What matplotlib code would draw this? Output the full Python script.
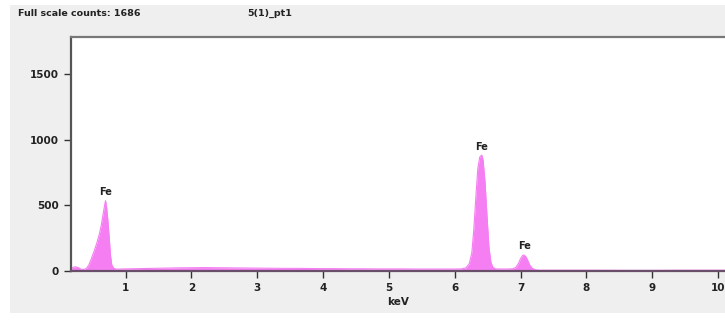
import matplotlib
matplotlib.use("Agg")
import matplotlib.pyplot as plt
from matplotlib.patches import Rectangle

# spectrum (keV, counts)
energy_kev = [0.17, 0.20, 0.24, 0.28, 0.32, 0.36, 0.40, 0.44, 0.48, 0.52,
              0.56, 0.60, 0.63, 0.66, 0.68, 0.695, 0.71, 0.73, 0.75, 0.77,
              0.79, 0.82, 0.86, 0.92, 1.00, 1.20, 1.40, 1.60, 1.80, 2.00,
              2.20, 2.40, 2.60, 2.80, 3.00, 3.20, 3.40, 3.60, 3.80, 4.00,
              4.20, 4.40, 4.60, 4.80, 5.00, 5.20, 5.40, 5.60, 5.80, 6.00,
              6.10, 6.17, 6.22, 6.26, 6.29, 6.32, 6.35, 6.38, 6.41, 6.43,
              6.46, 6.49, 6.52, 6.55, 6.58, 6.62, 6.70, 6.80, 6.88, 6.93,
              6.97, 7.00, 7.03, 7.05, 7.08, 7.11, 7.14, 7.18, 7.22, 7.28,
              7.40, 7.80, 8.20, 8.60, 9.00, 9.40, 9.80, 10.20]
counts = [12, 28, 32, 26, 14, 12, 18, 45, 95, 150,
          210, 280, 350, 440, 500, 537, 490, 390, 260, 120,
          45, 20, 14, 15, 16, 18, 20, 22, 24, 25,
          26, 25, 24, 23, 22, 21, 20, 20, 19, 18,
          18, 17, 17, 16, 16, 16, 15, 15, 15, 15,
          16, 24, 55, 140, 320, 560, 780, 870, 885, 850,
          680, 420, 180, 65, 28, 16, 15, 15, 17, 28,
          60, 95, 118, 122, 110, 80, 45, 20, 10, 6,
          6, 6, 6, 5, 5, 6, 6, 6]

peak_labels = ["Fe", "Fe", "Fe"]
peak_kev = [0.70, 6.41, 7.06]
peak_label_counts = [603, 946, 190]

x_ticks = [1, 2, 3, 4, 5, 6, 7, 8, 9, 10]
y_ticks = [0, 500, 1000, 1500]

fig = plt.figure(figsize=(7.25, 3.2), dpi=100)
fig.patch.set_facecolor("white")
# gray instrument panel behind everything
fig.patches.append(Rectangle((10 / 725, 7 / 320), 715 / 725, 308 / 320,
                             transform=fig.transFigure, facecolor="#efefef",
                             edgecolor="none", zorder=-10))

ax = fig.add_axes([71 / 725, 1 - 271 / 320, 654 / 725, 234 / 320])
ax.set_facecolor("white")
ax.fill_between(energy_kev, counts, 0, color="#f57ef2", linewidth=0, zorder=2)
ax.plot(energy_kev, counts, color="#f57ef2", lw=0.8, zorder=2)

for lab, e, c in zip(peak_labels, peak_kev, peak_label_counts):
    ax.text(e, c, lab, ha="center", va="center", fontsize=7,
            fontweight="bold", color="#222222")

ax.set_xlim(0.17, 10.106)
ax.set_ylim(0, 1786)
ax.set_xticks(x_ticks)
ax.set_yticks(y_ticks)
ax.tick_params(axis="both", labelsize=7.5, colors="#333333", length=5, width=1)
for lbl in ax.get_xticklabels() + ax.get_yticklabels():
    lbl.set_fontweight("bold")
    lbl.set_color("#222222")

ax.spines["right"].set_visible(False)
ax.spines["left"].set_color("#555555")
ax.spines["left"].set_linewidth(1.6)
ax.spines["top"].set_color("#777777")
ax.spines["top"].set_linewidth(1.6)
ax.spines["bottom"].set_color("#6a4f6a")
ax.spines["bottom"].set_linewidth(1.6)

ax.set_xlabel("keV", fontsize=7.5, fontweight="bold", color="#222222", labelpad=3)

fig.text(18 / 725, 1 - 13 / 320, "Full scale counts: 1686", fontsize=6.8,
         fontweight="bold", color="#222222", ha="left", va="center")
fig.text(270 / 725, 1 - 13 / 320, "5(1)_pt1", fontsize=6.8,
         fontweight="bold", color="#222222", ha="center", va="center")

fig.savefig("out.png", dpi=100, facecolor=fig.get_facecolor())
